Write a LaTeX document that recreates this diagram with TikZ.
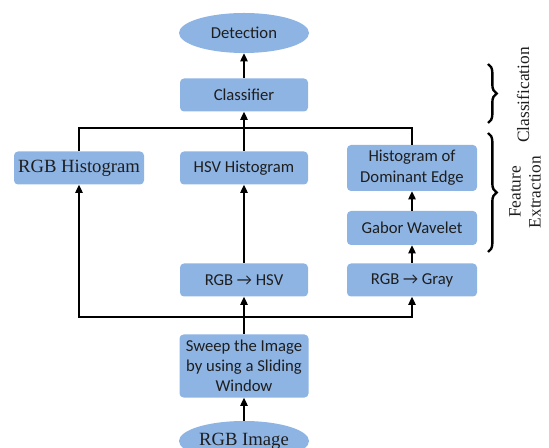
\documentclass[tikz,border=0pt]{standalone}
\usepackage{fontspec}
\setmainfont{Liberation Serif}
\newfontfamily\boxfont{Carlito}
\usepackage{xcolor}
\usetikzlibrary{shapes.geometric,arrows.meta,decorations.pathreplacing}
\definecolor{boxblue}{RGB}{142,180,227}
\definecolor{txt}{RGB}{30,30,30}

\begin{document}
\begin{tikzpicture}[x=0.75pt,y=-0.75pt,
 blk/.style={rectangle,rounded corners=3pt,fill=boxblue,draw=none,text=txt,
  minimum width=97.5pt,minimum height=24.75pt,inner sep=1pt,align=center,
  font=\boxfont\fontsize{12.5}{16}\selectfont},
 oval/.style={ellipse,fill=boxblue,draw=none,text=txt,minimum width=97.5pt,
  minimum height=30pt,inner sep=0pt},
 arr/.style={line width=1pt,-{Triangle[width=5.5pt,length=6pt]}},
 bus/.style={line width=1pt},
 brc/.style={line width=1.8pt,decorate,decoration={brace,amplitude=6.5pt}}]
 \clip (0,0) rectangle (549,448);
 \useasboundingbox (0,0) rectangle (549,448);
 % top
 \node[oval,font=\boxfont\fontsize{12.5}{15}\selectfont] (det) at (244,33) {Detection};
 \node[blk,minimum width=96pt] (cls) at (244,95) {Classifier};
 % features
 \node[blk,font=\fontsize{14}{16}\selectfont] (rgbhist) at (79,168) {RGB Histogram};
 \node[blk,minimum width=96pt] (hsvhist) at (244,168) {HSV Histogram};
 \node[blk,minimum height=34.5pt] (domedge) at (412,168) {Histogram of\\Dominant Edge};
 \node[blk,minimum height=25.5pt] (gabor) at (412,228) {Gabor Wavelet};
 \node[blk,minimum width=96pt] (hsv) at (244,280) {RGB → HSV};
 \node[blk] (gray) at (412,280) {RGB → Gray};
 % input
 \node[blk,minimum width=96.75pt,minimum height=47.25pt,font=\boxfont\fontsize{12.5}{15}\selectfont] (sweep) at (244,366) {Sweep the Image\\by using a Sliding\\Window};
 \node[oval,font=\fontsize{14}{16}\selectfont] (img) at (244,441) {RGB Image};
 \coordinate (top) at (244,128);
 \coordinate (bot) at (244,317);
 % connectors
 \draw[arr] (cls) -- (det);
 \draw[bus] (rgbhist.north) |- (top) -| (domedge.north);
 \draw[arr] (hsvhist.north) -- (cls.south);
 \draw[arr] (hsv) -- (hsvhist);
 \draw[arr] (gabor) -- (domedge);
 \draw[arr] (gray) -- (gabor);
 \draw[arr] (bot) -| (rgbhist.south);
 \draw[arr] (bot) -| (gray.south);
 \draw[arr] (sweep.north) -- (hsv.south);
 \draw[arr] (img) -- (sweep);
 % stages
 \draw[brc] (488,64) -- (488,123);
 \draw[brc] (488,133) -- (488,252);
 \node[rotate=90,font=\fontsize{13}{15}\selectfont,text=txt] (clsstage) at (523,95) {Classification};
 \node[rotate=90,align=center,font=\fontsize{13}{15}\selectfont,text=txt] (featstage) at (525,192) {Feature\\Extraction};
\end{tikzpicture}
\end{document}
